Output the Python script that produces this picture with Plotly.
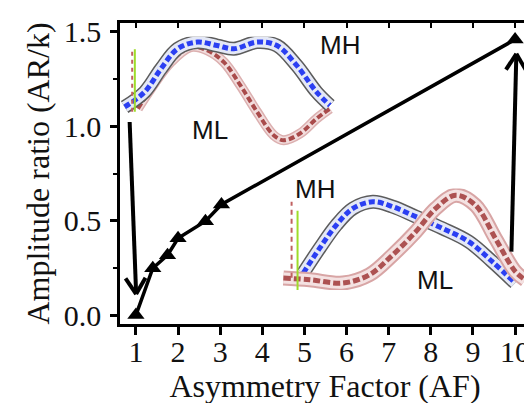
import math
import plotly.graph_objects as go

# ---------------- data ----------------
af = [1.0, 1.4, 1.75, 2.0, 2.65, 3.03, 10.0]
ratio = [0.0, 0.248, 0.317, 0.407, 0.497, 0.586, 1.46]

x_ticks = [1, 2, 3, 4, 5, 6, 7, 8, 9, 10]
y_ticks = [0.0, 0.5, 1.0, 1.5]
y_tick_text = ["0.0", "0.5", "1.0", "1.5"]
y_minor = [0.25, 0.75, 1.25]

# arrows: (tail x, tail y, tip x, tip y) in data units
arrow_tail_x = [0.851, 9.913]
arrow_tail_y = [1.023, 0.336]
arrow_tip_x = [1.005, 10.03]
arrow_tip_y = [0.111, 1.384]

# inset 1 waveforms (normalised phase / amplitude)
in1_blue_u = [0.021, 0.111, 0.185, 0.260, 0.350, 0.439, 0.514, 0.619, 0.709, 0.798, 0.888, 0.948]
in1_blue_v = [0.372, 0.506, 0.714, 0.893, 0.953, 0.922, 0.893, 0.953, 0.922, 0.744, 0.506, 0.387]
in1_red_u = [0.081, 0.140, 0.230, 0.320, 0.395, 0.469, 0.544, 0.619, 0.694, 0.739, 0.813, 0.888, 0.948]
in1_red_v = [0.357, 0.536, 0.774, 0.908, 0.878, 0.774, 0.565, 0.328, 0.119, 0.074, 0.134, 0.268, 0.357]
in1_mark_u = [0.067, 0.067]
in1_mark_v = [0.33, 0.89]

# inset 2 waveforms
in2_blue_u = [0.099, 0.165, 0.232, 0.299, 0.379, 0.459, 0.552, 0.659, 0.765, 0.859, 0.952]
in2_blue_v = [0.167, 0.412, 0.640, 0.804, 0.870, 0.821, 0.723, 0.608, 0.477, 0.281, 0.069]
in2_red_u = [0.019, 0.125, 0.259, 0.365, 0.459, 0.552, 0.632, 0.712, 0.792, 0.872, 0.952, 0.992]
in2_red_v = [0.118, 0.101, 0.069, 0.150, 0.346, 0.575, 0.804, 0.934, 0.836, 0.510, 0.183, 0.101]
in2_mark_u = [0.076, 0.076]
in2_mark_v = [0.0, 0.78]

labels_text = ["MH", "ML", "MH", "ML"]
labels_x = [5.84, 2.77, 5.25, 8.11]
labels_y = [1.432, 0.979, 0.670, 0.188]

# ---------------- layout geometry ----------------
W, H = 532, 403
ML_, MR_, MT_, MB_ = 112, 7, 14, 87
xr = [0.622, 10.354]
yr = [-0.0475, 1.5475]
plot_w = W - ML_ - MR_
plot_h = H - MT_ - MB_
kx = plot_w / (xr[1] - xr[0])
ky = plot_h / (yr[1] - yr[0])

SERIF = "Liberation Serif"
SANS = "Liberation Sans"

fig = go.Figure()


def band(u, v, xa, ya, layers):
    for width, color, dash in layers:
        fig.add_trace(go.Scatter(
            x=u, y=v, xaxis=xa, yaxis=ya, mode="lines",
            line=dict(color=color, width=width, dash=dash, shape="spline", smoothing=1.0),
            hoverinfo="skip", showlegend=False))


blue_layers = [(14, "#5c5c5c", "solid"), (11, "#e4e8f6", "solid"), (5, "#2b3ff2", "6px,3px")]
red_layers1 = [(10, "#dcb0b0", "solid"), (7, "#f1dcdc", "solid"), (4, "#a94b4b", "6px,3px")]
red_layers2 = [(15, "#d8a5a5", "solid"), (11, "#f4e2e2", "solid"), (5, "#ad5252", "7px,3px")]

# inset 1: red first, blue on top
band(in1_red_u, in1_red_v, "x3", "y3", red_layers1)
band(in1_blue_u, in1_blue_v, "x3", "y3", blue_layers)
fig.add_trace(go.Scatter(x=[u - 0.012 for u in in1_mark_u], y=in1_mark_v, xaxis="x3", yaxis="y3",
                         mode="lines", line=dict(color="#c06060", width=2, dash="4px,4px"),
                         hoverinfo="skip", showlegend=False))
fig.add_trace(go.Scatter(x=in1_mark_u, y=in1_mark_v, xaxis="x3", yaxis="y3", mode="lines",
                         line=dict(color="#9fdc2a", width=2), hoverinfo="skip", showlegend=False))

# inset 2: blue first, red on top
band(in2_blue_u, in2_blue_v, "x4", "y4", blue_layers)
band(in2_red_u, in2_red_v, "x4", "y4", red_layers2)
fig.add_trace(go.Scatter(x=[u - 0.024 for u in in2_mark_u], y=[0.12, 0.87], xaxis="x4", yaxis="y4",
                         mode="lines", line=dict(color="#c06060", width=2, dash="5px,4px"),
                         hoverinfo="skip", showlegend=False))
fig.add_trace(go.Scatter(x=in2_mark_u, y=in2_mark_v, xaxis="x4", yaxis="y4", mode="lines",
                         line=dict(color="#9fdc2a", width=2), hoverinfo="skip", showlegend=False))

# main data
fig.add_trace(go.Scatter(
    x=af, y=ratio, mode="lines+markers",
    line=dict(color="black", width=3.5),
    marker=dict(symbol="triangle-up", size=15, color="black"),
    hoverinfo="skip", showlegend=False))

# invisible trace to activate the mirrored-tick axes
fig.add_trace(go.Scatter(x=af, y=ratio, xaxis="x2", yaxis="y2", mode="markers",
                         marker=dict(opacity=0), hoverinfo="skip", showlegend=False))

# arrows
shapes = []
for x0, y0, x1, y1 in zip(arrow_tail_x, arrow_tail_y, arrow_tip_x, arrow_tip_y):
    shapes.append(dict(type="line", xref="x", yref="y", x0=x0, y0=y0, x1=x1, y1=y1,
                       line=dict(color="black", width=4)))
    dxp = (x1 - x0) * kx
    dyp = (y1 - y0) * ky
    L = math.hypot(dxp, dyp)
    ux, uy = dxp / L, dyp / L
    for sgn in (1, -1):
        a = math.radians(32 * sgn)
        bx = -ux * math.cos(a) + uy * math.sin(a)
        by = -ux * math.sin(a) - uy * math.cos(a)
        shapes.append(dict(type="line", xref="x", yref="y", x0=x1, y0=y1,
                           x1=x1 + 19 * bx / kx, y1=y1 + 19 * by / ky,
                           line=dict(color="black", width=4)))

annotations = [dict(x=x, y=y, xref="x", yref="y", text=t, showarrow=False,
                    font=dict(family=SANS, size=26, color="#111111"))
               for t, x, y in zip(labels_text, labels_x, labels_y)]

tick_font = dict(family=SERIF, size=30, color="#111111")
title_font = dict(family=SERIF, size=32, color="#111111")

fig.update_layout(
    width=W, height=H,
    margin=dict(l=ML_, r=MR_, t=MT_, b=MB_),
    paper_bgcolor="white", plot_bgcolor="rgba(0,0,0,0)",
    font=dict(family=SERIF, size=30, color="#111111"),
    showlegend=False,
    shapes=shapes,
    annotations=annotations,
    xaxis=dict(range=xr, tickvals=x_ticks, ticks="outside", ticklen=8, tickwidth=2.5,
               tickcolor="black", showline=True, linecolor="black", linewidth=2.5, mirror=True,
               showgrid=False, zeroline=False, tickfont=tick_font,
               ticklabelstandoff=-9,
               title=dict(text="Asymmetry Factor (AF)", font=title_font, standoff=4)),
    yaxis=dict(range=yr, tickvals=y_ticks, ticktext=y_tick_text, ticks="outside", ticklen=7,
               tickwidth=2.5, tickcolor="black", showline=True, linecolor="black", linewidth=2.5,
               mirror=True, showgrid=False, zeroline=False, tickfont=tick_font,
               ticklabelstandoff=3,
               minor=dict(tickvals=y_minor, ticks="outside", ticklen=4, tickwidth=2,
                          tickcolor="black"),
               title=dict(text="Amplitude ratio (AR/k)", font=title_font, standoff=5)),
    xaxis2=dict(range=xr, overlaying="x", side="top", anchor="y", tickvals=x_ticks,
                ticks="inside", ticklen=5, tickwidth=2, tickcolor="black",
                showticklabels=False, showline=False, showgrid=False, zeroline=False),
    yaxis2=dict(range=yr, overlaying="y", side="right", anchor="x", tickvals=y_ticks,
                ticks="inside", ticklen=5, tickwidth=2, tickcolor="black",
                minor=dict(tickvals=y_minor, ticks="inside", ticklen=4, tickwidth=2,
                           tickcolor="black"),
                showticklabels=False, showline=False, showgrid=False, zeroline=False),
    xaxis3=dict(domain=[0.0, 0.54], anchor="y3", range=[0, 1], visible=False),
    yaxis3=dict(domain=[0.583, 0.954], anchor="x3", range=[0, 1], visible=False),
    xaxis4=dict(domain=[0.387, 0.993], anchor="y4", range=[0, 1], visible=False),
    yaxis4=dict(domain=[0.113, 0.450], anchor="x4", range=[0, 1], visible=False),
)

fig.write_html("out.html")
